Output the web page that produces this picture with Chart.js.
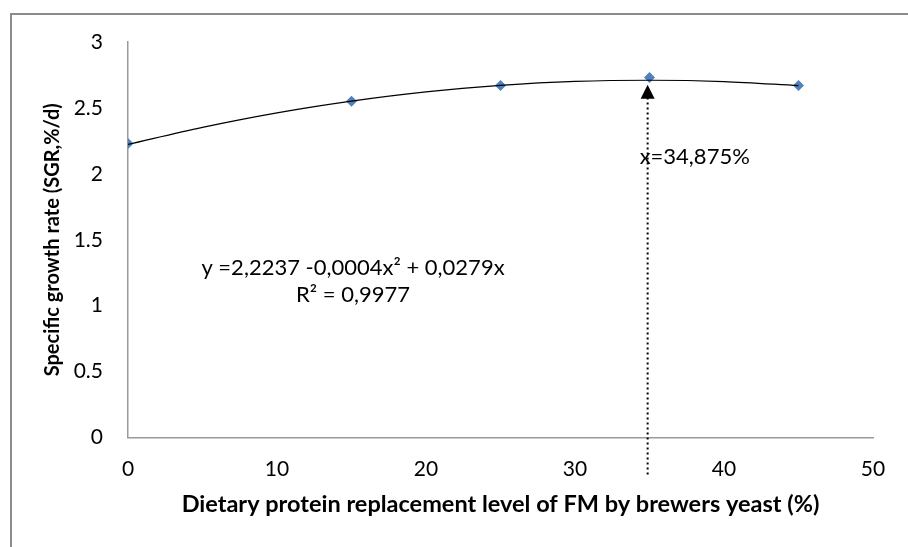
<!DOCTYPE html>
<html>
<head>
<meta charset="utf-8">
<script src="https://cdn.jsdelivr.net/npm/chart.js@4"></script>
<style>
  html, body { margin: 0; padding: 0; background: #fff; }
  #wrap { width: 908px; height: 547px; }
</style>
</head>
<body>
<div id="wrap"><canvas id="sgr"></canvas></div>
<script>
// observed data points
const levels = [0, 15, 25, 35, 45];
const sgr = [2.23, 2.55, 2.67, 2.73, 2.67];

// trendline
const trendX = [0, 5, 10, 15, 20, 25, 30, 35, 40, 45];
const trendY = [2.224, 2.353, 2.463, 2.552, 2.622, 2.671, 2.701, 2.710, 2.700, 2.669];

const xTicks = [0, 10, 20, 30, 40, 50];
const yTicks = [0, 0.5, 1, 1.5, 2, 2.5, 3];

const optimumX = 34.875;
const eqLines = ['y =2,2237 -0,0004x\u00b2 + 0,0279x', 'R\u00b2 = 0,9977'];
const optimumLabel = 'x=34,875%';

const FONT = 'Lato, "Open Sans", sans-serif';

const frame = {
  id: 'frame',
  beforeDraw(chart) {
    const c = chart.ctx;
    c.save();
    c.fillStyle = '#fff';
    c.fillRect(0, 0, chart.width, chart.height);
    c.strokeStyle = '#8c8c8c';
    c.lineWidth = 2;
    c.beginPath();
    c.moveTo(11, chart.height);
    c.lineTo(11, 14);
    c.lineTo(chart.width, 14);
    c.stroke();
    c.restore();
  }
};

const notes = {
  id: 'notes',
  afterDatasetsDraw(chart) {
    const c = chart.ctx;
    const x = chart.scales.x, y = chart.scales.y;
    const px = x.getPixelForValue(optimumX);
    const tip = y.getPixelForValue(2.675);
    const foot = y.getPixelForValue(-0.28);
    c.save();
    // dotted drop line
    c.strokeStyle = '#000';
    c.lineWidth = 2;
    c.setLineDash([2, 3]);
    c.beginPath();
    c.moveTo(px, foot);
    c.lineTo(px, tip + 12);
    c.stroke();
    c.setLineDash([]);
    // arrow head
    c.fillStyle = '#000';
    c.beginPath();
    c.moveTo(px, tip);
    c.lineTo(px - 7, tip + 14);
    c.lineTo(px + 7, tip + 14);
    c.closePath();
    c.fill();
    // texts
    c.font = '22px ' + FONT;
    c.fillStyle = '#000';
    c.textBaseline = 'middle';
    c.textAlign = 'left';
    c.fillText(optimumLabel, px - 8, y.getPixelForValue(2.13));
    c.textAlign = 'center';
    const ex = x.getPixelForValue(15.1);
    c.fillText(eqLines[0], ex, y.getPixelForValue(1.285));
    c.fillText(eqLines[1], ex, y.getPixelForValue(1.08));
    c.restore();
  }
};

new Chart(document.getElementById('sgr'), {
  type: 'scatter',
  data: {
    datasets: [
      {
        label: 'Trend',
        data: trendX.map((v, i) => ({ x: v, y: trendY[i] })),
        showLine: true,
        borderColor: '#000',
        borderWidth: 1.2,
        pointRadius: 0,
        tension: 0.4,
        cubicInterpolationMode: 'monotone'
      },
      {
        label: 'SGR',
        data: levels.map((v, i) => ({ x: v, y: sgr[i] })),
        pointStyle: 'rectRot',
        pointRadius: 5.5,
        backgroundColor: '#4F81BD',
        borderColor: '#4F81BD',
        borderWidth: 0
      }
    ]
  },
  options: {
    responsive: true,
    maintainAspectRatio: false,
    animation: false,
    layout: { padding: { top: 42, right: 35, left: 0, bottom: 0 } },
    plugins: {
      legend: { display: false },
      tooltip: { enabled: false }
    },
    scales: {
      x: {
        type: 'linear',
        min: 0,
        max: 50,
        afterBuildTicks: s => { s.ticks = xTicks.map(v => ({ value: v })); },
        afterFit: s => { s.height = 109.5; },
        grid: { display: false, drawTicks: false },
        border: { color: '#9a9a9a', width: 1.5 },
        ticks: { padding: 19, color: '#000', font: { family: FONT, size: 21 }, callback: v => String(v) },
        title: {
          display: true,
          text: 'Dietary protein replacement level of FM by brewers yeast (%)',
          color: '#000',
          font: { family: FONT, size: 23.5, weight: 'bold' },
          padding: { top: 0, bottom: 28 }
        }
      },
      y: {
        min: 0,
        max: 3,
        afterBuildTicks: s => { s.ticks = yTicks.map(v => ({ value: v })); },
        afterFit: s => { s.width = 128; },
        grid: { display: false, drawTicks: false },
        border: { color: '#9a9a9a', width: 1.5 },
        ticks: { padding: 25, color: '#000', font: { family: FONT, size: 21 }, callback: v => String(v) },
        title: {
          display: true,
          text: 'Specific growth rate (SGR,%/d)',
          color: '#000',
          font: { family: FONT, size: 20, weight: 'bold' },
          padding: { top: 41, bottom: 0 }
        }
      }
    }
  },
  plugins: [frame, notes]
});
</script>
</body>
</html>
